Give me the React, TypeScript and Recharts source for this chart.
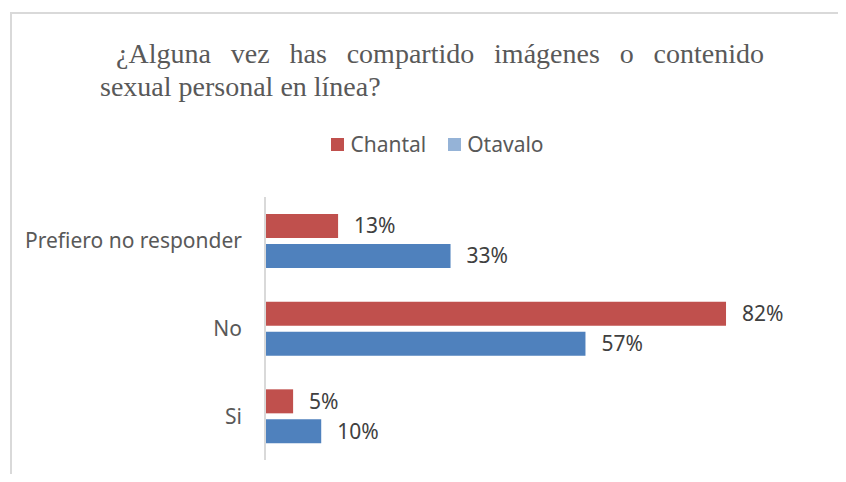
import { BarChart, Bar, XAxis, YAxis, Legend, LabelList } from "recharts";

const categories = ["Prefiero no responder", "No", "Si"];
const chantal = [13, 82, 5];
const otavalo = [33, 57, 10];
const titleLines = ["¿Alguna vez has compartido imágenes o contenido", "sexual personal en línea?"];

const data = categories.map((name, i) => ({ name, Chantal: chantal[i], Otavalo: otavalo[i] }));

const legendItems = [
  { label: "Chantal", color: "#C0504D" },
  { label: "Otavalo", color: "#95B3D7" },
];

const font = "'Noto Sans', 'Open Sans', sans-serif";
const serif = "'Liberation Serif', 'Times New Roman', serif";

function ChartLegend() {
  return (
    <div style={{ display: "flex", justifyContent: "center", gap: 22, fontFamily: font, fontSize: 21, color: "#595959", paddingLeft: 29, lineHeight: "28px" }}>
      {legendItems.map((it) => (
        <div key={it.label} style={{ display: "flex", alignItems: "center", gap: 6 }}>
          <span style={{ width: 13, height: 13, background: it.color, display: "inline-block" }} />
          <span>{it.label}</span>
        </div>
      ))}
    </div>
  );
}

const fmt = (v: number) => `${v}%`;

export default function App() {
  return (
    <div style={{ position: "relative", width: 846, height: 482, margin: -8, background: "#fff", overflow: "hidden" }}>
      <div style={{ position: "absolute", left: 10, top: 12, right: 0, bottom: 0, borderTop: "2px solid #D9D9D9", borderLeft: "2px solid #D9D9D9" }} />
      <div style={{ position: "absolute", left: 116, top: 37, width: 648, fontFamily: serif, fontSize: 28, lineHeight: "33px", color: "#595959", textAlign: "justify", textAlignLast: "justify" }}>
        {titleLines[0]}
      </div>
      <div style={{ position: "absolute", left: 100, top: 70, fontFamily: serif, fontSize: 28, lineHeight: "33px", color: "#595959", whiteSpace: "nowrap" }}>
        {titleLines[1]}
      </div>
      <div style={{ position: "absolute", left: 0, top: 0 }}>
        <BarChart
          width={846}
          height={482}
          data={data}
          layout="vertical"
          barSize={24}
          barGap={6}
          margin={{ top: 197, right: 75, bottom: 22, left: 25 }}
        >
          <XAxis type="number" domain={[0, 90]} hide />
          <YAxis
            type="category"
            dataKey="name"
            width={240}
            axisLine={{ stroke: "#D9D9D9", strokeWidth: 2 }}
            tickLine={false}
            tickSize={0}
            tickMargin={23}
            tick={{ fontSize: 21, fill: "#595959", fontFamily: font }}
          />
          <Legend
            layout="horizontal"
            verticalAlign="middle"
            align="center"
            wrapperStyle={{ top: 130, left: 0, width: 846 }}
            content={() => <ChartLegend />}
          />
          <Bar dataKey="Chantal" fill="#C0504D" isAnimationActive={false}>
            <LabelList dataKey="Chantal" position="right" offset={16} formatter={fmt} style={{ fontSize: 21, fill: "#404040", fontFamily: font }} />
          </Bar>
          <Bar dataKey="Otavalo" fill="#4F81BD" isAnimationActive={false}>
            <LabelList dataKey="Otavalo" position="right" offset={16} formatter={fmt} style={{ fontSize: 21, fill: "#404040", fontFamily: font }} />
          </Bar>
        </BarChart>
      </div>
    </div>
  );
}
